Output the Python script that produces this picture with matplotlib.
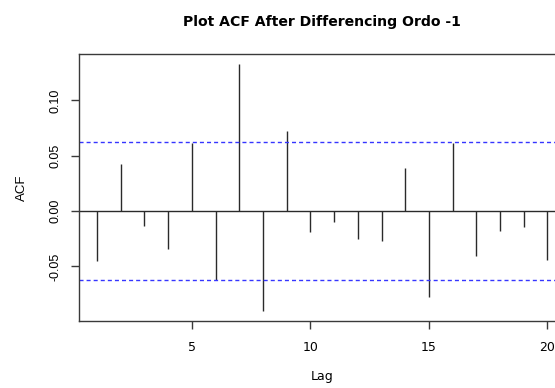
import matplotlib
matplotlib.use("Agg")
import matplotlib.pyplot as plt
import numpy as np

# Sample autocorrelations of the once-differenced series (lags 1..20)
lags = np.arange(1, 21)
acf_values = [-0.0449, 0.0428, -0.0133, -0.0343, 0.0614,
              -0.0623, 0.1331, -0.0901, 0.0726, -0.0193,
              -0.0102, -0.0250, -0.0271, 0.0392, -0.0777,
              0.0620, -0.0404, -0.0184, -0.0139, -0.0446]
ci_bound = 0.0625          # 95% white-noise band, +/- 1.96/sqrt(n)

x_ticks = [5, 10, 15, 20]
y_ticks = [-0.05, 0.00, 0.05, 0.10]
y_tick_labels = ["-0.05", "0.00", "0.05", "0.10"]

title = "Plot ACF After Differencing Ordo -1"
x_label = "Lag"
y_label = "ACF"

W, H = 555, 388
fig = plt.figure(figsize=(W / 100, H / 100), dpi=100)
fig.patch.set_facecolor("white")

# plot region, in pixels (left, top, right, bottom)
L, T, R, B = 79, 54, 565.5, 320.7
ax = fig.add_axes([L / W, (H - B) / H, (R - L) / W, (B - T) / H])

frame_col = "#3a3a3a"
line_col = "#2a2a2a"

# R-style 4% padding of the data range
x_lo, x_hi = lags.min(), lags.max()
dx = 0.04 * (x_hi - x_lo)
ax.set_xlim(x_lo - dx, x_hi + dx)
y_lo = min(min(acf_values), -ci_bound)
y_hi = max(max(acf_values), ci_bound)
dy = 0.04 * (y_hi - y_lo)
ax.set_ylim(y_lo - dy, y_hi + dy)

ax.vlines(lags, 0, acf_values, color=line_col, lw=1.0)
ax.axhline(0, color=line_col, lw=1.0)
for s in (ci_bound, -ci_bound):
    ax.axhline(s, color="#3535ff", lw=1.0, linestyle=(0, (2.9, 2.2)))

for side in ("left", "top", "bottom"):
    ax.spines[side].set_color(frame_col)
    ax.spines[side].set_linewidth(1.0)
ax.spines["right"].set_visible(False)

ax.set_xticks(x_ticks)
ax.set_xticklabels([str(t) for t in x_ticks], fontsize=9, family="DejaVu Sans")
ax.set_yticks(y_ticks)
ax.set_yticklabels(y_tick_labels, rotation=90, va="center",
                   fontsize=9, family="Liberation Sans")
ax.tick_params(axis="both", direction="out", length=5.8, width=1.0,
               color=frame_col, labelcolor="black")
ax.tick_params(axis="x", pad=8.5)
ax.tick_params(axis="y", pad=6.5)

# titles and axis labels
fig.text(((L + R) / 2) / W, (H - 26) / H, title, ha="center", va="baseline",
         fontsize=10.1, fontweight="bold", family="DejaVu Sans")
fig.text(((L + R) / 2) / W, (H - 380) / H, x_label, ha="center", va="baseline",
         fontsize=9, family="DejaVu Sans")
fig.text(21.5 / W, (H - (T + B) / 2) / H, y_label, rotation=90,
         ha="center", va="center", fontsize=9.5, family="Liberation Sans")

fig.savefig("out.png", dpi=100, facecolor="white")
